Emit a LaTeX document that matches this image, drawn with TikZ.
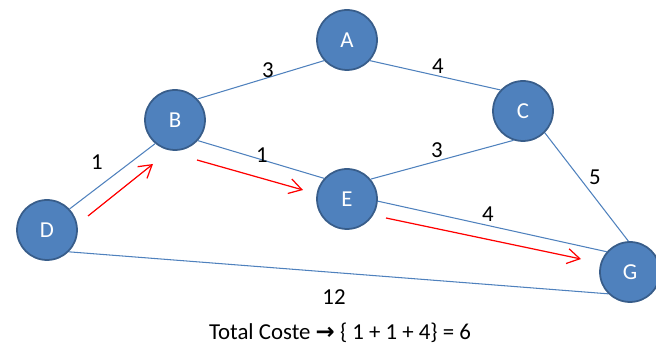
\documentclass[tikz,border=0pt]{standalone}
\usepackage{fontspec}
\setmainfont{Carlito}
\newfontfamily\symfont{DejaVu Sans}
\usetikzlibrary{arrows.meta}
\definecolor{nodo}{RGB}{79,129,189}
\definecolor{borde}{RGB}{56,93,138}
\newcommand{\testo}{\fontsize{13}{15}\selectfont}
\tikzset{
  vertice/.style={circle,fill=nodo,draw=borde,line width=1pt,minimum size=1.2cm,text=white,font=\testo},
  arista/.style={draw=nodo,line width=0.6pt},
  camino/.style={red,line width=0.7pt,-{Straight Barb[length=2.5mm,width=3mm]}},
  peso/.style={font=\testo}
}
\begin{document}
\begin{tikzpicture}[x=0.02cm,y=-0.02cm]
    \useasboundingbox (0,0) rectangle (656,350);
    %nodi
    \node[vertice] (A) at (347,40) {A};
    \node[vertice] (B) at (175,120) {B};
    \node[vertice] (C) at (523,111) {C};
    \node[vertice] (D) at (47,230) {D};
    \node[vertice] (E) at (347,199) {E};
    \node[vertice] (G) at (630,272) {G};
    %archi
    \draw[arista] (B.43) -- (A.-138);
    \draw[arista] (A.-42) -- (C.137);
    \draw[arista] (B.-42) -- (E.138);
    \draw[arista] (E.40) -- (C.-108);
    \draw[arista] (C.-45) -- (G.93);
    \draw[arista] (E.-4) -- (G.139);
    \draw[arista] (D.-45) -- (G.-135);
    \draw[arista] (D.43) -- (B.-130);
    %pesi
    \node[peso] (p1) at (268,70) {3};
    \node[peso] (p2) at (438,66) {4};
    \node[peso] (p3) at (262,155) {1};
    \node[peso] (p4) at (437,150) {3};
    \node[peso] (p5) at (595,177) {5};
    \node[peso] (p6) at (488,214) {4};
    \node[peso] (p7) at (334,297) {12};
    \node[peso] (p8) at (97,162) {1};
    %cammino minimo
    \coordinate (d1) at (88,216);
    \coordinate (b1) at (153,164);
    \coordinate (b2) at (197,160);
    \coordinate (e1) at (303,190);
    \coordinate (e2) at (386,218);
    \coordinate (g1) at (581,259);
    \draw[camino] (d1) -- (b1);
    \draw[camino] (b2) -- (e1);
    \draw[camino] (e2) -- (g1);
    \node[font=\testo] (tot) at (340,333) {Total Coste {\symfont\bfseries →} \{ 1 + 1 + 4\} = 6};
\end{tikzpicture}
\end{document}
